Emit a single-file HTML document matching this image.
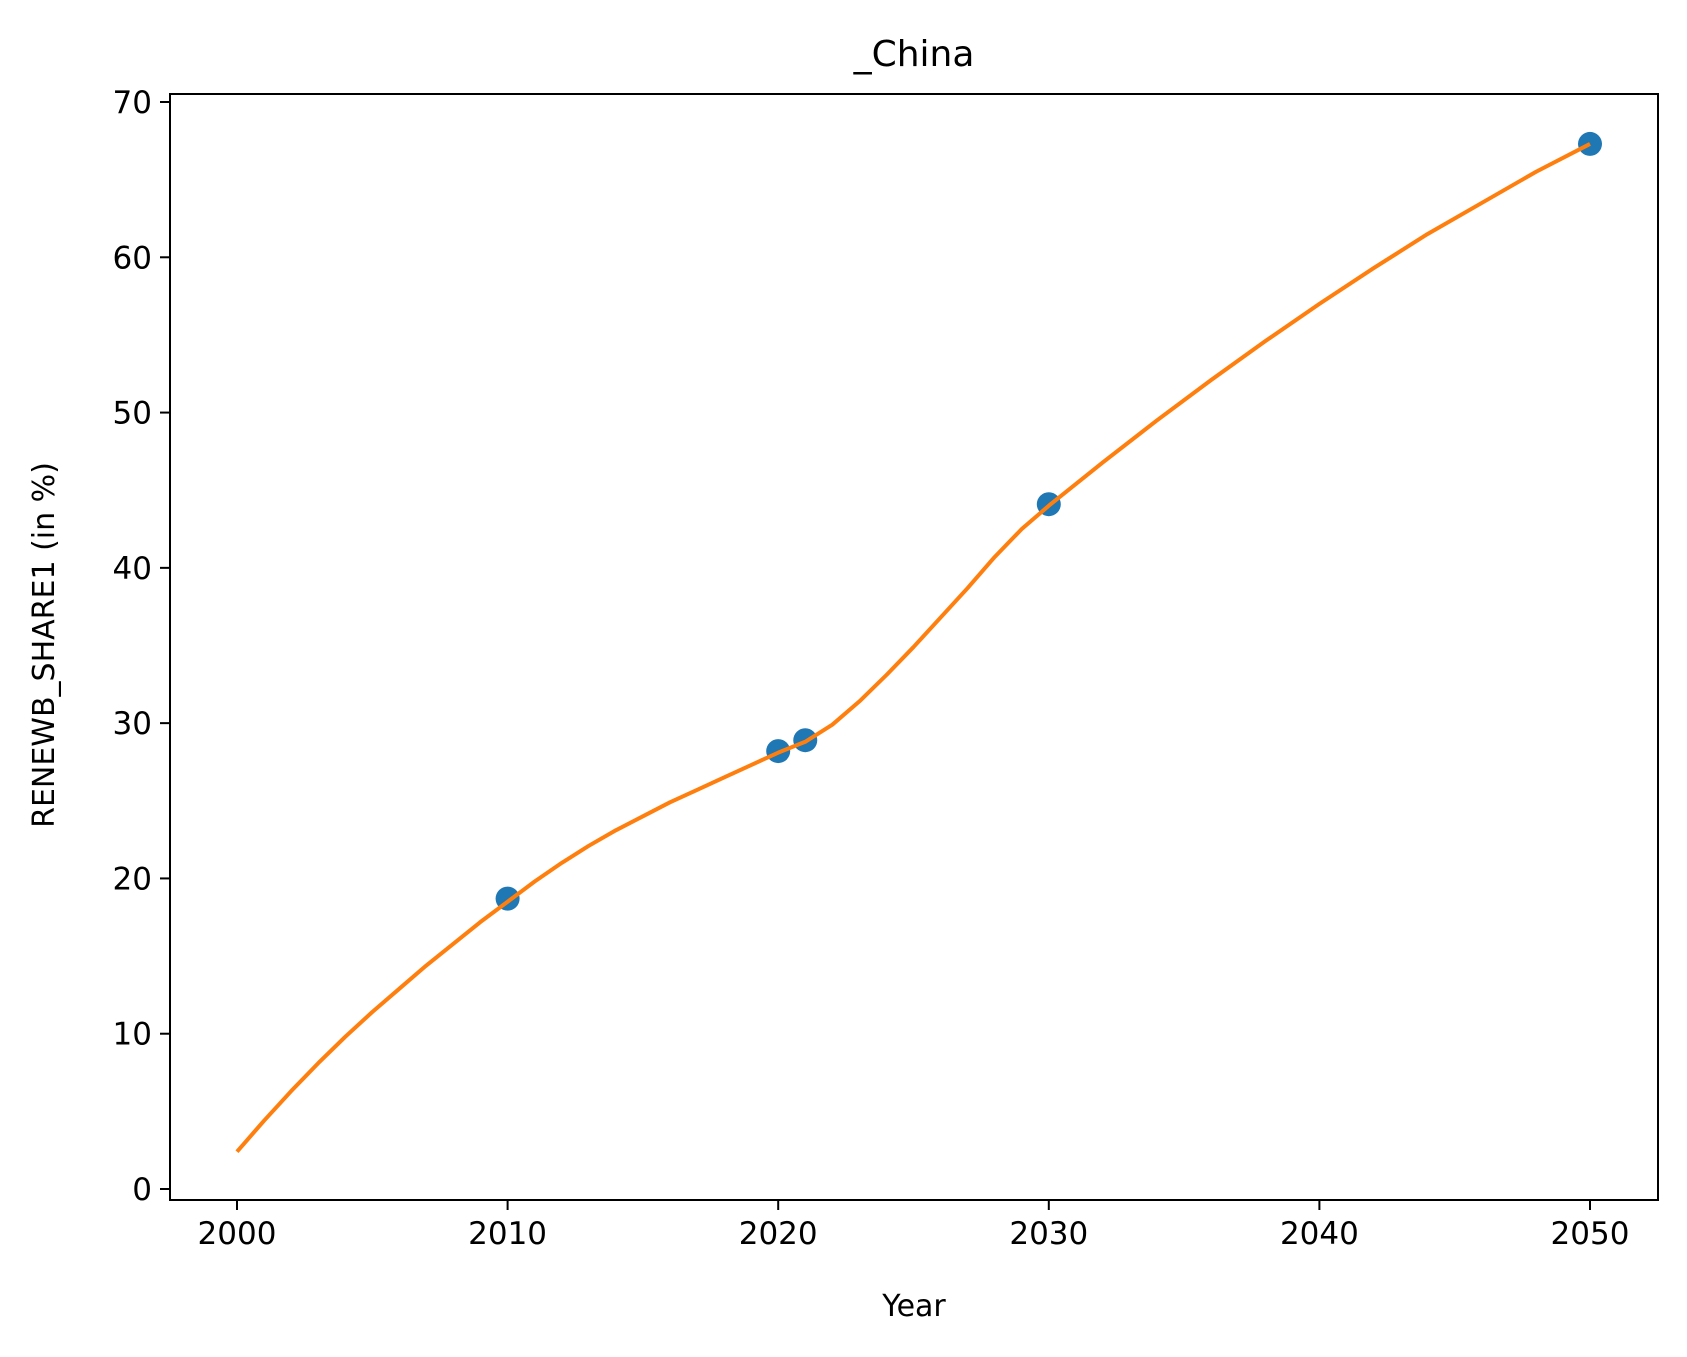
<!DOCTYPE html>
<html><head><meta charset="utf-8"><style>
html,body{margin:0;padding:0;background:#fff;}
svg{display:block;font-family:"DejaVu Sans","Liberation Sans",sans-serif;}
</style></head><body>
<svg id="chart" width="1687" height="1357" viewBox="0 0 1687 1357" xmlns="http://www.w3.org/2000/svg">
<rect width="1687" height="1357" fill="#fff"/>
<text x="914" y="66" font-size="36" text-anchor="middle">_China</text>
<text x="914" y="1316" font-size="30" text-anchor="middle">Year</text>
<text transform="translate(54,645) rotate(-90)" font-size="30" text-anchor="middle">RENEWB_SHARE1 (in %)</text>
<g id="ticks"></g>
<g id="marks"></g>
<rect x="170" y="94" width="1488" height="1106" fill="none" stroke="#000" stroke-width="2"/>
</svg>
<script>
const xTicks=[2000,2010,2020,2030,2040,2050];
const yTicks=[0,10,20,30,40,50,60,70];
const pointYears=[2010,2020,2021,2030,2050];
const pointValues=[18.7,28.2,28.9,44.1,67.3];
const lineYears=[2000,2001,2002,2003,2004,2005,2006,2007,2008,2009,2010,2011,2012,2013,2014,2015,2016,2017,2018,2019,2020,2021,2022,2023,2024,2025,2026,2027,2028,2029,2030,2032,2034,2036,2038,2040,2042,2044,2046,2048,2050];
const lineValues=[2.4,4.4,6.3,8.1,9.8,11.4,12.9,14.4,15.8,17.2,18.5,19.8,21.0,22.1,23.1,24.0,24.9,25.7,26.5,27.3,28.1,28.8,29.9,31.4,33.1,34.9,36.8,38.7,40.7,42.5,44.0,46.8,49.5,52.1,54.6,57.0,59.3,61.5,63.5,65.5,67.3];
const X=v=>237+(v-2000)*(1590-237)/50;
const Y=v=>1189-v*(1189-102)/70;
const NS='http://www.w3.org/2000/svg';
const tg=document.getElementById('ticks'), mg=document.getElementById('marks');
function mk(t,a,p){const e=document.createElementNS(NS,t);for(const k in a)e.setAttribute(k,a[k]);p.appendChild(e);return e;}
xTicks.forEach(t=>{
 const l=mk('line',{x1:X(t),x2:X(t),y1:1200,y2:1210,stroke:'#000','stroke-width':2},tg);
 
 
 const s=mk('text',{x:X(t),y:1244,'font-size':31,'text-anchor':'middle'},tg);s.textContent=t;
 
 
});
yTicks.forEach(t=>{
 const l=mk('line',{x1:160,x2:170,y1:Y(t),y2:Y(t),stroke:'#000','stroke-width':2},tg);
 
 
 const s=mk('text',{x:152,y:Y(t)+11,'font-size':31,'text-anchor':'end'},tg);s.textContent=t;
 
 
});
pointYears.forEach((yr,i)=>{
 const c=mk('circle',{cx:X(yr),cy:Y(pointValues[i]),r:12,fill:'#1f77b4'},mg);
 
 
});
const pl=mk('polyline',{points:lineYears.map((yr,i)=>X(yr)+','+Y(lineValues[i])).join(' '),fill:'none',stroke:'#ff7f0e','stroke-width':4,'stroke-linejoin':'round'},mg);


</script>
</body></html>
